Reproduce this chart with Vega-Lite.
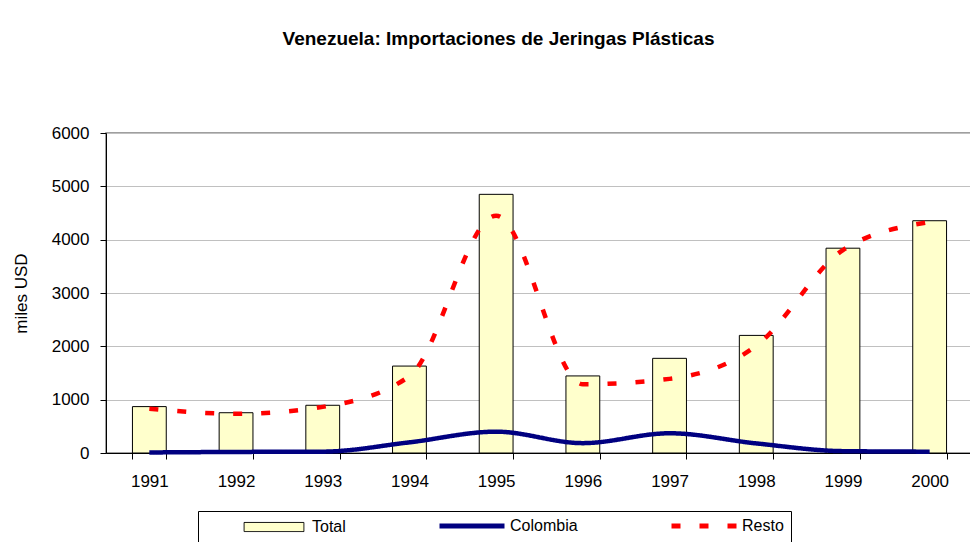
{
  "$schema": "https://vega.github.io/schema/vega-lite/v6.json",
  "width": 867,
  "height": 320,
  "autosize": {"type": "none"},
  "padding": {"left": 106, "top": 133, "right": 0, "bottom": 89},
  "background": "white",
  "config": {
    "font": "Liberation Sans",
    "view": {"stroke": "#808080", "strokeWidth": 1.5},
    "axis": {"labelColor": "#000000", "titleColor": "#000000", "domainColor": "#000000", "tickColor": "#000000", "labelFont": "Liberation Sans", "titleFont": "Liberation Sans"}
  },
  "title": {
    "text": "Venezuela: Importaciones de Jeringas Plásticas",
    "font": "Liberation Sans",
    "fontSize": 19,
    "fontWeight": "bold",
    "color": "#000000",
    "anchor": "middle",
    "frame": "group",
    "dx": -41,
    "offset": 75
  },
  "data": {
    "values": [
      {"year": "1991", "series": "Total", "value": 870},
      {"year": "1992", "series": "Total", "value": 755},
      {"year": "1993", "series": "Total", "value": 895},
      {"year": "1994", "series": "Total", "value": 1630},
      {"year": "1995", "series": "Total", "value": 4850},
      {"year": "1996", "series": "Total", "value": 1445},
      {"year": "1997", "series": "Total", "value": 1775},
      {"year": "1998", "series": "Total", "value": 2205},
      {"year": "1999", "series": "Total", "value": 3840},
      {"year": "2000", "series": "Total", "value": 4355},
      {"year": "1991", "series": "Colombia", "value": 10},
      {"year": "1992", "series": "Colombia", "value": 20},
      {"year": "1993", "series": "Colombia", "value": 25},
      {"year": "1994", "series": "Colombia", "value": 200},
      {"year": "1995", "series": "Colombia", "value": 400},
      {"year": "1996", "series": "Colombia", "value": 185},
      {"year": "1997", "series": "Colombia", "value": 370},
      {"year": "1998", "series": "Colombia", "value": 180},
      {"year": "1999", "series": "Colombia", "value": 35},
      {"year": "2000", "series": "Colombia", "value": 25},
      {"year": "1991", "series": "Resto", "value": 830},
      {"year": "1992", "series": "Resto", "value": 735},
      {"year": "1993", "series": "Resto", "value": 865},
      {"year": "1994", "series": "Resto", "value": 1440},
      {"year": "1995", "series": "Resto", "value": 4450},
      {"year": "1996", "series": "Resto", "value": 1290},
      {"year": "1997", "series": "Resto", "value": 1390},
      {"year": "1998", "series": "Resto", "value": 2010},
      {"year": "1999", "series": "Resto", "value": 3805},
      {"year": "2000", "series": "Resto", "value": 4330}
    ]
  },
  "encoding": {
    "x": {
      "field": "year",
      "type": "ordinal",
      "scale": {"paddingInner": 0.61, "paddingOuter": 0.305},
      "axis": {"title": null, "labelAngle": 0, "tickBand": "extent", "tickSize": 6, "labelFontSize": 17, "labelPadding": 14, "grid": false}
    },
    "y": {
      "field": "value",
      "type": "quantitative",
      "scale": {"domain": [0, 6000], "nice": false},
      "axis": {"title": "miles USD", "format": "d", "values": [0, 1000, 2000, 3000, 4000, 5000, 6000], "titleFontSize": 17, "titleFontWeight": "normal", "titlePadding": 21, "labelFontSize": 17, "labelPadding": 11, "tickSize": 6, "grid": true, "gridColor": "#C0C0C0", "gridWidth": 1}
    },
    "color": {
      "field": "series",
      "type": "nominal",
      "scale": {"domain": ["Total", "Colombia", "Resto"], "range": ["#000000", "#000080", "#FF0000"]},
      "legend": {
        "orient": "none",
        "legendX": 92,
        "legendY": 378,
        "direction": "horizontal",
        "columns": 3,
        "columnPadding": 83,
        "padding": 7,
        "strokeColor": "#000000",
        "fillColor": "#FFFFFF",
        "title": " ",
        "titleOrient": "left",
        "titlePadding": 35,
        "titleFontSize": 16,
        "labelFontSize": 16,
        "labelColor": "#000000",
        "labelFont": "Liberation Sans",
        "symbolSize": 169,
        "symbolOffset": 26,
        "labelOffset": 30,
        "encode": {
          "entries": {
            "update": {
              "width": {"signal": "datum.value === 'Resto' ? 148 : 0"}
            }
          },
          "symbols": {
            "update": {
              "shape": {"signal": "datum.value === 'Total' ? 'M-4.6,-0.7H4.6V0.7H-4.6Z' : 'M-5,0H5'"},
              "fill": {"signal": "datum.value === 'Total' ? '#FFFFCC' : 'transparent'"},
              "stroke": {"signal": "datum.value === 'Total' ? '#000000' : (datum.value === 'Colombia' ? '#000080' : '#FF0000')"},
              "strokeWidth": {"signal": "datum.value === 'Total' ? 1 : 5"},
              "strokeDash": {"signal": "datum.value === 'Resto' ? [9, 19] : [1, 0]"},
              "opacity": {"value": 1}
            }
          }
        }
      }
    }
  },
  "layer": [
    {
      "transform": [{"filter": "datum.series === 'Total'"}],
      "mark": {"type": "bar", "stroke": "#000000", "strokeWidth": 1, "opacity": 1},
      "encoding": {"color": {"value": "#FFFFCC"}}
    },
    {
      "transform": [{"filter": "datum.series !== 'Total'"}],
      "mark": {"type": "line", "interpolate": "monotone", "strokeWidth": 4.5},
      "encoding": {
        "strokeDash": {
          "field": "series",
          "type": "nominal",
          "scale": {"domain": ["Colombia", "Resto"], "range": [[1, 0], [9, 19]]},
          "legend": null
        }
      }
    }
  ]
}
